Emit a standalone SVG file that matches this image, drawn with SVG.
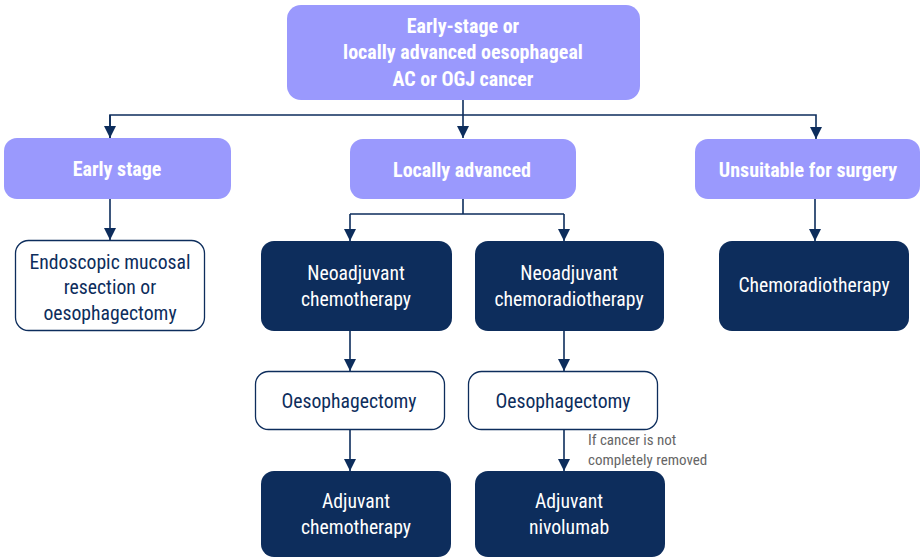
<svg xmlns="http://www.w3.org/2000/svg" width="920" height="558" viewBox="0 0 920 558">
<style>
text{font-family:"Roboto Condensed","Liberation Sans Narrow","DejaVu Sans Condensed","Liberation Sans",sans-serif;text-anchor:middle;font-size:19.7px}
.p rect{fill:#9a99fd}
.p text{fill:#fff;font-weight:bold;font-size:20px}
.d rect{fill:#0d2d5c}
.d text{fill:#fff}
.w rect{fill:#fff;stroke:#0d2d5c;stroke-width:1.3}
.w text{fill:#0d2d5c}
.c path{fill:none;stroke:#0d2d5c;stroke-width:1.6}
.note{fill:#666;font-size:15px;text-anchor:start}
</style>
<defs>
<marker id="a" markerWidth="12" markerHeight="12" refX="6" refY="12" orient="0" markerUnits="userSpaceOnUse" viewBox="0 0 12 12">
<path d="M0,0 L12,0 L6,12 Z" fill="#0d2d5c"/>
</marker>
</defs>
<g class="c" id="connectors">
<path d="M463,100 V138" marker-end="url(#a)"/>
<path d="M110,138 V115 H816 V139" marker-end="url(#a)"/>
<path d="M110,115 V138" marker-end="url(#a)"/>
<path d="M110,199 V240" marker-end="url(#a)"/>
<path d="M463,199 V214 M350,214 H564"/>
<path d="M350,214 V241" marker-end="url(#a)"/>
<path d="M564,214 V241" marker-end="url(#a)"/>
<path d="M815,199 V241" marker-end="url(#a)"/>
<path d="M350,331 V371" marker-end="url(#a)"/>
<path d="M564,331 V371" marker-end="url(#a)"/>
<path d="M350,430 V471" marker-end="url(#a)"/>
<path d="M564,430 V471" marker-end="url(#a)"/>
</g>
<g id="n-top" class="p"><rect x="287" y="5" width="353" height="95" rx="14"/><text x="463" y="33">Early-stage or</text><text x="463" y="59">locally advanced oesophageal</text><text x="463" y="86">AC or OGJ cancer</text></g>
<g id="n-early" class="p"><rect x="4" y="138" width="227" height="61" rx="13"/><text x="117" y="176">Early stage</text></g>
<g id="n-local" class="p"><rect x="350" y="139" width="226" height="60" rx="13"/><text x="462" y="177">Locally advanced</text></g>
<g id="n-unsuit" class="p"><rect x="695" y="139" width="225" height="60" rx="13"/><text x="808" y="177">Unsuitable for surgery</text></g>
<g id="n-endo" class="w"><rect x="15.5" y="240.5" width="189" height="90" rx="13"/><text x="110" y="269">Endoscopic mucosal</text><text x="110" y="294">resection or</text><text x="110" y="320">oesophagectomy</text></g>
<g id="n-neochemo" class="d"><rect x="261" y="241" width="191" height="90" rx="13"/><text x="356" y="280">Neoadjuvant</text><text x="356" y="306">chemotherapy</text></g>
<g id="n-neocrt" class="d"><rect x="475" y="241" width="189" height="90" rx="13"/><text x="569" y="280">Neoadjuvant</text><text x="569" y="306">chemoradiotherapy</text></g>
<g id="n-crt" class="d"><rect x="719" y="241" width="190" height="90" rx="13"/><text x="814" y="292">Chemoradiotherapy</text></g>
<g id="n-oes1" class="w"><rect x="255.5" y="371.5" width="189" height="58" rx="13"/><text x="349" y="408">Oesophagectomy</text></g>
<g id="n-oes2" class="w"><rect x="468.5" y="371.5" width="189" height="58" rx="13"/><text x="563" y="408">Oesophagectomy</text></g>
<g id="n-adjchemo" class="d"><rect x="261" y="471" width="190" height="86" rx="13"/><text x="356" y="508">Adjuvant</text><text x="356" y="534">chemotherapy</text></g>
<g id="n-adjnivo" class="d"><rect x="475" y="471" width="190" height="86" rx="13"/><text x="569" y="508">Adjuvant</text><text x="569" y="534">nivolumab</text></g>
<g id="label"><text class="note" x="588" y="445">If cancer is not</text><text class="note" x="588" y="465">completely removed</text></g>
</svg>
